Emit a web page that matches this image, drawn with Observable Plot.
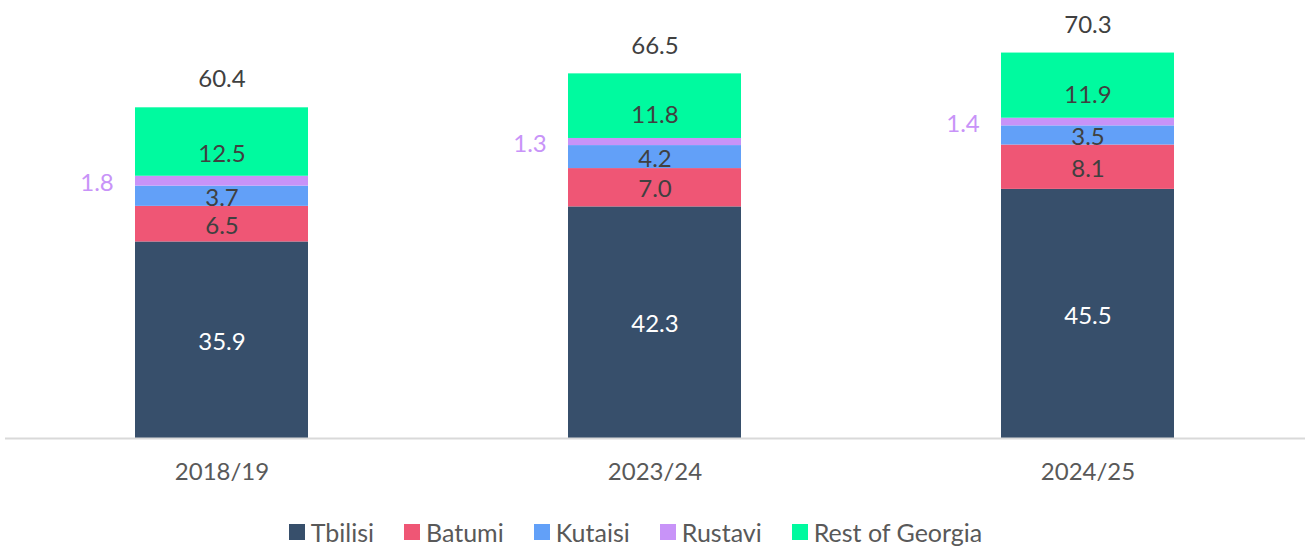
<!DOCTYPE html>
<html>
<head>
<meta charset="utf-8">
<script src="https://cdn.jsdelivr.net/npm/d3@7"></script>
<script src="https://cdn.jsdelivr.net/npm/@observablehq/plot@0.6"></script>
<style>
  html, body { margin: 0; padding: 0; background: #fff; font-family: Lato, "Open Sans", sans-serif; }
  #legend { display: flex; justify-content: center; align-items: center; gap: 30px; height: 46px; box-sizing: border-box; padding-top: 18px; font-size: 25px; font-weight: 400; color: #595959; padding-right: 34px; }
  #legend span.item { display: flex; align-items: center; gap: 6px; }
  #legend span.sw { width: 16px; height: 16px; display: inline-block; }
</style>
</head>
<body>
<div id="chart"></div>
<div id="legend"></div>
<script>
const years = ["2018/19", "2023/24", "2024/25"];
const seriesNames = ["Tbilisi", "Batumi", "Kutaisi", "Rustavi", "Rest of Georgia"];
const colors = ["#374f6b", "#ef5675", "#62a0f8", "#c893f8", "#00fa9f"];
const tbilisi = [35.9, 42.3, 45.5];
const batumi = [6.5, 7.0, 8.1];
const kutaisi = [3.7, 4.2, 3.5];
const rustavi = [1.8, 1.3, 1.4];
const rest = [12.5, 11.8, 11.9];
const totals = [60.4, 66.5, 70.3];

const seriesValues = [tbilisi, batumi, kutaisi, rustavi, rest];
const data = [];
years.forEach((yr, i) => {
  seriesNames.forEach((s, j) => data.push({year: yr, series: s, value: seriesValues[j][i]}));
});
const totalData = years.map((yr, i) => ({year: yr, total: totals[i]}));

const FS = 24;
const chart = Plot.plot({
  width: 1305,
  height: 500,
  marginLeft: 5,
  marginRight: 0,
  marginTop: 0,
  marginBottom: 62,
  style: {fontFamily: "Lato, 'Open Sans', sans-serif", fontSize: FS + "px", fontWeight: 400},
  x: {domain: years, paddingInner: 0.6, paddingOuter: 0.3, label: null, tickSize: 0, tickPadding: 22},
  y: {domain: [0, 80], axis: null},
  color: {domain: seriesNames, range: colors},
  marks: [
    Plot.barY(data, {x: "year", y: "value", fill: "series", order: null}),
    Plot.ruleY([0], {stroke: "#d9d9d9", strokeWidth: 2}),
    Plot.text(data, Plot.stackY({
      filter: d => d.series !== "Rustavi",
      x: "year", y: "value", z: "series", order: null,
      text: d => d.value.toFixed(1),
      fill: d => d.series === "Tbilisi" ? "#ffffff" : "#404040",
      fontSize: FS, dy: 2
    })),
    Plot.text(data, Plot.stackY({
      x: "year", y: "value", z: "series", order: null,
      text: d => d.series === "Rustavi" ? d.value.toFixed(1) : "",
      fill: "#c893f8",
      dx: -125, dy: 2,
      fontSize: FS
    })),
    Plot.text(totalData, {x: "year", y: "total", text: d => d.total.toFixed(1), dy: -28, fill: "#404040", fontSize: FS}),
    Plot.axisX({tickSize: 0, tickPadding: 24, fill: "#595959", fontSize: FS, label: null})
  ]
});
document.getElementById("chart").appendChild(chart);

const legend = document.getElementById("legend");
seriesNames.forEach((s, i) => {
  const item = document.createElement("span");
  item.className = "item";
  const sw = document.createElement("span");
  sw.className = "sw";
  sw.style.background = colors[i];
  item.appendChild(sw);
  item.appendChild(document.createTextNode(s));
  legend.appendChild(item);
});
</script>
</body>
</html>
